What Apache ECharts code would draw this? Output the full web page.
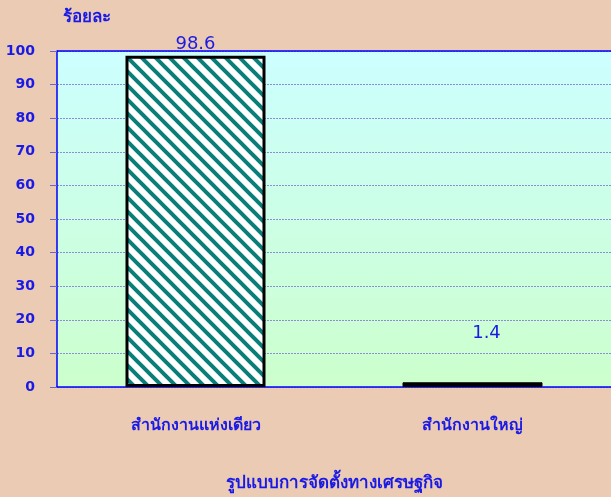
<!DOCTYPE html>
<html>
<head>
<meta charset="utf-8">
<script src="https://cdn.jsdelivr.net/npm/echarts@6/dist/echarts.min.js"></script>
<style>
  html, body { margin: 0; padding: 0; background: #ebcbb3; }
  #chart { width: 611px; height: 497px; }
</style>
</head>
<body>
<div id="chart"></div>
<script>
const categories = ['สำนักงานแห่งเดียว', 'สำนักงานใหญ่']
const values = [98.6, 1.4]
const yTicks = [0, 10, 20, 30, 40, 50, 60, 70, 80, 90, 100]

const blue = '#1a1ae6'
const font = 'Tahoma, "DejaVu Sans", sans-serif'

// diagonal teal stripes on white
function stripes () {
  const n = 14
  const c = document.createElement('canvas')
  c.width = n
  c.height = n
  const ctx = c.getContext('2d')
  ctx.fillStyle = '#ffffff'
  ctx.fillRect(0, 0, n, n)
  ctx.strokeStyle = '#0a7f7a'
  ctx.lineWidth = 4
  ctx.beginPath()
  ctx.moveTo(-n, -n); ctx.lineTo(2 * n, 2 * n)
  ctx.moveTo(-n, 0); ctx.lineTo(n, 2 * n)
  ctx.moveTo(0, -n); ctx.lineTo(2 * n, n)
  ctx.stroke()
  return c
}

// black with small grey marks
function darkDots () {
  const c = document.createElement('canvas')
  c.width = 16
  c.height = 6
  const ctx = c.getContext('2d')
  ctx.fillStyle = '#000'
  ctx.fillRect(0, 0, 16, 6)
  ctx.fillStyle = '#aaaaaa'
  ctx.fillRect(6, 2, 4, 1)
  ctx.fillRect(7, 3, 2, 1)
  return c
}

const chart = echarts.init(document.getElementById('chart'))
chart.setOption({
  backgroundColor: '#ebcbb3',
  animation: false,
  textStyle: { fontFamily: font },
  title: {
    text: 'ร้อยละ',
    left: 58,
    top: 4,
    textStyle: { color: blue, fontSize: 17, fontWeight: 'bold', fontFamily: font }
  },
  grid: {
    left: 57,
    right: 0,
    top: 51,
    bottom: 109,
    show: true,
    borderWidth: 0,
    backgroundColor: {
      type: 'linear', x: 0, y: 0, x2: 0, y2: 1,
      colorStops: [{ offset: 0, color: '#ccffff' }, { offset: 1, color: '#ccffcc' }]
    }
  },
  xAxis: {
    type: 'category',
    data: categories,
    name: 'รูปแบบการจัดตั้งทางเศรษฐกิจ',
    nameLocation: 'middle',
    nameGap: 88,
    nameTextStyle: { color: blue, fontSize: 17, fontWeight: 'bold' },
    axisLine: { lineStyle: { color: '#0000ff', width: 1.5 } },
    axisTick: { length: 7, lineStyle: { color: '#6666cc' } },
    axisLabel: { color: blue, fontSize: 16, fontWeight: 'bold', margin: 31 }
  },
  yAxis: {
    type: 'value',
    min: 0,
    max: 100,
    interval: 10,
    axisLine: { show: true, lineStyle: { color: '#0000ff', width: 1.5 } },
    axisTick: { show: true, length: 7, lineStyle: { color: '#6666cc' } },
    axisLabel: {
      color: blue, fontSize: 14, fontWeight: 'bold', margin: 22,
      formatter: v => yTicks.includes(v) ? String(v) : ''
    },
    splitLine: {
      lineStyle: { color: '#8c8cd8', type: [2, 1], width: 1 }
    }
  },
  series: [{
    type: 'bar',
    barWidth: 140,
    data: [
      {
        value: values[0],
        itemStyle: { color: { image: stripes(), repeat: 'repeat' }, borderColor: '#000', borderWidth: 3 },
        label: { show: true, position: 'top', distance: 2 }
      },
      {
        value: values[1],
        itemStyle: { color: { image: darkDots(), repeat: 'repeat' }, borderColor: '#000', borderWidth: 1 },
        label: { show: true, position: 'top', distance: 40, offset: [14, 0] }
      }
    ],
    label: { color: blue, fontSize: 18, fontFamily: font },
    markLine: {
      silent: true,
      symbol: 'none',
      label: { show: false },
      lineStyle: { color: '#0000ff', type: 'solid', width: 1.5 },
      data: [{ yAxis: 100 }]
    }
  }]
})
</script>
</body>
</html>
